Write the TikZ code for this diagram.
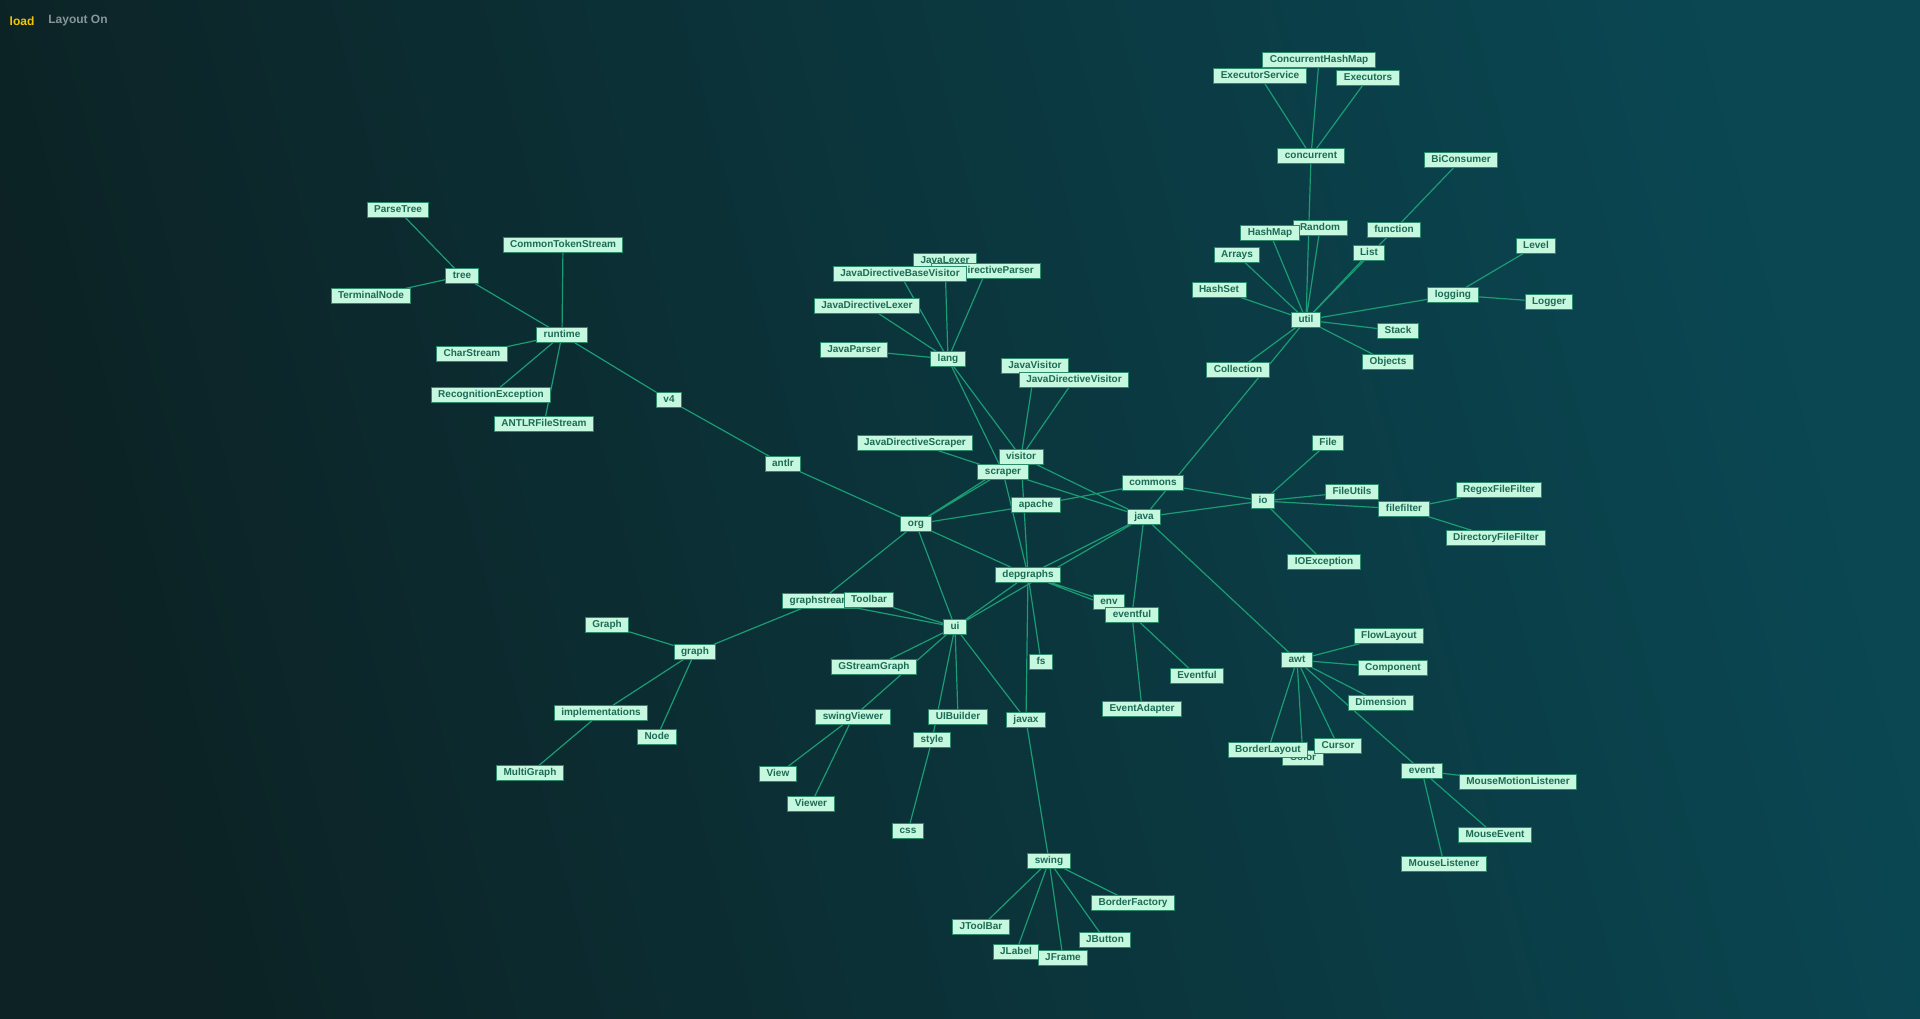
\documentclass[tikz,border=0pt]{standalone}
\usepackage{fontspec}
\setmainfont{Liberation Sans}
\usepackage{tikz}

\definecolor{bgleft}{HTML}{0C2224}
\definecolor{bgright}{HTML}{0A4753}
\definecolor{boxfill}{HTML}{C6F7DF}
\definecolor{boxline}{HTML}{2C8A6C}
\definecolor{boxtext}{HTML}{1D6B55}
\definecolor{linkcol}{HTML}{1A9C74}
\definecolor{loadcol}{HTML}{F2C800}
\definecolor{menucol}{HTML}{86969A}

\pgfdeclarelayer{back}
\pgfdeclarelayer{links}
\pgfsetlayers{back,links,main}

\tikzset{
  pkg/.style={draw=boxline, fill=boxfill, text=boxtext, line width=1pt,
    font=\bfseries\fontsize{10}{10}\selectfont, inner xsep=7pt, inner ysep=2.3pt,
    text height=7.2pt, text depth=2.4pt},
  dep/.style={draw=linkcol, line width=1.2pt}
}

\begin{document}
\begin{tikzpicture}[x=1pt,y=-1pt]
\useasboundingbox (0,0) rectangle (1920,1019);
\begin{pgfonlayer}{back}
\shade[left color=bgleft, right color=bgright, shading angle=105] (0,0) rectangle (1920,1019);
\end{pgfonlayer}

% menu
\node[text=loadcol, font=\bfseries\fontsize{12}{12}\selectfont] (load) at (22,21) {load};
\node[text=menucol, font=\bfseries\fontsize{12}{12}\selectfont] (layout) at (78,21) {Layout On};

% antlr
\node[pkg] (parsetree) at (398,210) {ParseTree};
\node[pkg] (commontokenstream) at (563,245) {CommonTokenStream};
\node[pkg] (tree) at (462,276) {tree};
\node[pkg] (terminalnode) at (371,296) {TerminalNode};
\node[pkg] (runtime) at (562,335) {runtime};
\node[pkg] (charstream) at (472,354) {CharStream};
\node[pkg] (recognitionexception) at (491,395) {RecognitionException};
\node[pkg] (antlrfilestream) at (544,424) {ANTLRFileStream};
\node[pkg] (v4) at (669,400) {v4};
\node[pkg] (antlr) at (783,464) {antlr};
\node[pkg] (org) at (916,524) {org};

% graphstream
\node[pkg] (graphstream) at (820,601) {graphstream};
\node[pkg] (toolbar) at (869,600) {Toolbar};
\node[pkg] (graphcls) at (607,625) {Graph};
\node[pkg] (graph) at (695,652) {graph};
\node[pkg] (implementations) at (601,713) {implementations};
\node[pkg] (node) at (657,737) {Node};
\node[pkg] (multigraph) at (530,773) {MultiGraph};
\node[pkg] (ui) at (955,627) {ui};
\node[pkg] (gstreamgraph) at (874,667) {GStreamGraph};
\node[pkg] (swingviewer) at (853,717) {swingViewer};
\node[pkg] (uibuilder) at (958,717) {UIBuilder};
\node[pkg] (style) at (932,740) {style};
\node[pkg] (view) at (778,774) {View};
\node[pkg] (viewer) at (811,804) {Viewer};
\node[pkg] (css) at (908,831) {css};

% javax
\node[pkg] (javax) at (1026,720) {javax};
\node[pkg] (fs) at (1041,662) {fs};
\node[pkg] (swing) at (1049,861) {swing};
\node[pkg] (borderfactory) at (1133,903) {BorderFactory};
\node[pkg] (jtoolbar) at (981,927) {JToolBar};
\node[pkg] (jframe) at (1063,958) {JFrame};
\node[pkg] (jlabel) at (1016,952) {JLabel};
\node[pkg] (jbutton) at (1105,940) {JButton};

% lang
\node[pkg] (javalexer) at (945,261) {JavaLexer};
\node[pkg] (javadirectiveparser) at (986,271) {JavaDirectiveParser};
\node[pkg] (javadirectivebasevisitor) at (900,274) {JavaDirectiveBaseVisitor};
\node[pkg] (javadirectivelexer) at (867,306) {JavaDirectiveLexer};
\node[pkg] (javaparser) at (854,350) {JavaParser};
\node[pkg] (lang) at (948,359) {lang};
\node[pkg] (javavisitor) at (1035,366) {JavaVisitor};
\node[pkg] (javadirectivevisitor) at (1074,380) {JavaDirectiveVisitor};
\node[pkg] (javadirectivescraper) at (915,443) {JavaDirectiveScraper};
\node[pkg] (visitor) at (1021,457) {visitor};
\node[pkg] (scraper) at (1003,472) {scraper};
\node[pkg] (apache) at (1036,505) {apache};
\node[pkg] (commons) at (1153,483) {commons};
\node[pkg] (java) at (1144,517) {java};
\node[pkg] (depgraphs) at (1028,575) {depgraphs};
\node[pkg] (env) at (1109,602) {env};
\node[pkg] (eventful) at (1132,615) {eventful};
\node[pkg] (eventfulcls) at (1197,676) {Eventful};
\node[pkg] (eventadapter) at (1142,709) {EventAdapter};

% io
\node[pkg] (io) at (1263,501) {io};
\node[pkg] (file) at (1328,443) {File};
\node[pkg] (fileutils) at (1352,492) {FileUtils};
\node[pkg] (filefilter) at (1404,509) {filefilter};
\node[pkg] (regexfilefilter) at (1499,490) {RegexFileFilter};
\node[pkg] (directoryfilefilter) at (1496,538) {DirectoryFileFilter};
\node[pkg] (ioexception) at (1324,562) {IOException};

% awt
\node[pkg] (awt) at (1297,660) {awt};
\node[pkg] (flowlayout) at (1389,636) {FlowLayout};
\node[pkg] (component) at (1393,668) {Component};
\node[pkg] (dimension) at (1381,703) {Dimension};
\node[pkg] (color) at (1303,758) {Color};
\node[pkg] (borderlayout) at (1268,750) {BorderLayout};
\node[pkg] (cursor) at (1338,746) {Cursor};
\node[pkg] (event) at (1422,771) {event};
\node[pkg] (mousemotionlistener) at (1518,782) {MouseMotionListener};
\node[pkg] (mouseevent) at (1495,835) {MouseEvent};
\node[pkg] (mouselistener) at (1444,864) {MouseListener};

% util
\node[pkg] (concurrenthashmap) at (1319,60) {ConcurrentHashMap};
\node[pkg] (executorservice) at (1260,76) {ExecutorService};
\node[pkg] (executors) at (1368,78) {Executors};
\node[pkg] (concurrent) at (1311,156) {concurrent};
\node[pkg] (biconsumer) at (1461,160) {BiConsumer};
\node[pkg] (random) at (1320,228) {Random};
\node[pkg] (hashmap) at (1270,233) {HashMap};
\node[pkg] (function) at (1394,230) {function};
\node[pkg] (arrays) at (1237,255) {Arrays};
\node[pkg] (list) at (1369,253) {List};
\node[pkg] (level) at (1536,246) {Level};
\node[pkg] (hashset) at (1219,290) {HashSet};
\node[pkg] (logging) at (1453,295) {logging};
\node[pkg] (logger) at (1549,302) {Logger};
\node[pkg] (util) at (1306,320) {util};
\node[pkg] (stack) at (1398,331) {Stack};
\node[pkg] (objects) at (1388,362) {Objects};
\node[pkg] (collection) at (1238,370) {Collection};

\begin{pgfonlayer}{links}
\draw[dep] (tree) -- (parsetree) (tree) -- (terminalnode) (tree) -- (runtime);
\draw[dep] (runtime) -- (commontokenstream) (runtime) -- (charstream) (runtime) -- (recognitionexception) (runtime) -- (antlrfilestream);
\draw[dep] (runtime) -- (v4) (v4) -- (antlr) (antlr) -- (org);
\draw[dep] (org) -- (graphstream) (org) -- (scraper) (org) -- (visitor) (org) -- (apache) (org) -- (depgraphs) (org) -- (ui);
\draw[dep] (graphstream) -- (graph) (graphstream) -- (ui) (toolbar) -- (ui);
\draw[dep] (graph) -- (graphcls) (graph) -- (implementations) (graph) -- (node) (implementations) -- (multigraph);
\draw[dep] (ui) -- (depgraphs) (ui) -- (java) (ui) -- (gstreamgraph) (ui) -- (swingviewer) (ui) -- (style) (ui) -- (uibuilder) (ui) -- (javax);
\draw[dep] (swingviewer) -- (view) (swingviewer) -- (viewer) (style) -- (css);
\draw[dep] (depgraphs) -- (javax) (depgraphs) -- (fs) (javax) -- (swing);
\draw[dep] (swing) -- (jtoolbar) (swing) -- (jlabel) (swing) -- (jframe) (swing) -- (jbutton) (swing) -- (borderfactory);
\draw[dep] (lang) -- (javaparser) (lang) -- (javadirectivelexer) (lang) -- (javadirectivebasevisitor) (lang) -- (javalexer) (lang) -- (javadirectiveparser);
\draw[dep] (lang) -- (visitor) (lang) -- (scraper);
\draw[dep] (visitor) -- (javavisitor) (visitor) -- (javadirectivevisitor) (visitor) -- (java) (visitor) -- (depgraphs);
\draw[dep] (scraper) -- (javadirectivescraper) (scraper) -- (depgraphs) (scraper) -- (java);
\draw[dep] (apache) -- (commons) (commons) -- (io) (java) -- (io);
\draw[dep] (java) -- (depgraphs) (java) -- (eventful) (java) -- (awt) (util) -- (java);
\draw[dep] (depgraphs) -- (env) (depgraphs) -- (eventful) (eventful) -- (eventfulcls) (eventful) -- (eventadapter);
\draw[dep] (io) -- (file) (io) -- (fileutils) (io) -- (filefilter) (io) -- (ioexception);
\draw[dep] (filefilter) -- (regexfilefilter) (filefilter) -- (directoryfilefilter);
\draw[dep] (awt) -- (flowlayout) (awt) -- (component) (awt) -- (dimension) (awt) -- (borderlayout) (awt) -- (color) (awt) -- (cursor) (awt) -- (event);
\draw[dep] (event) -- (mousemotionlistener) (event) -- (mouseevent) (event) -- (mouselistener);
\draw[dep] (util) -- (concurrent) (util) -- (hashmap) (util) -- (random) (util) -- (arrays) (util) -- (hashset) (util) -- (list);
\draw[dep] (util) -- (function) (util) -- (logging) (util) -- (stack) (util) -- (objects) (util) -- (collection);
\draw[dep] (concurrent) -- (executorservice) (concurrent) -- (concurrenthashmap) (concurrent) -- (executors);
\draw[dep] (function) -- (biconsumer) (logging) -- (level) (logging) -- (logger);
\end{pgfonlayer}
\end{tikzpicture}
\end{document}
